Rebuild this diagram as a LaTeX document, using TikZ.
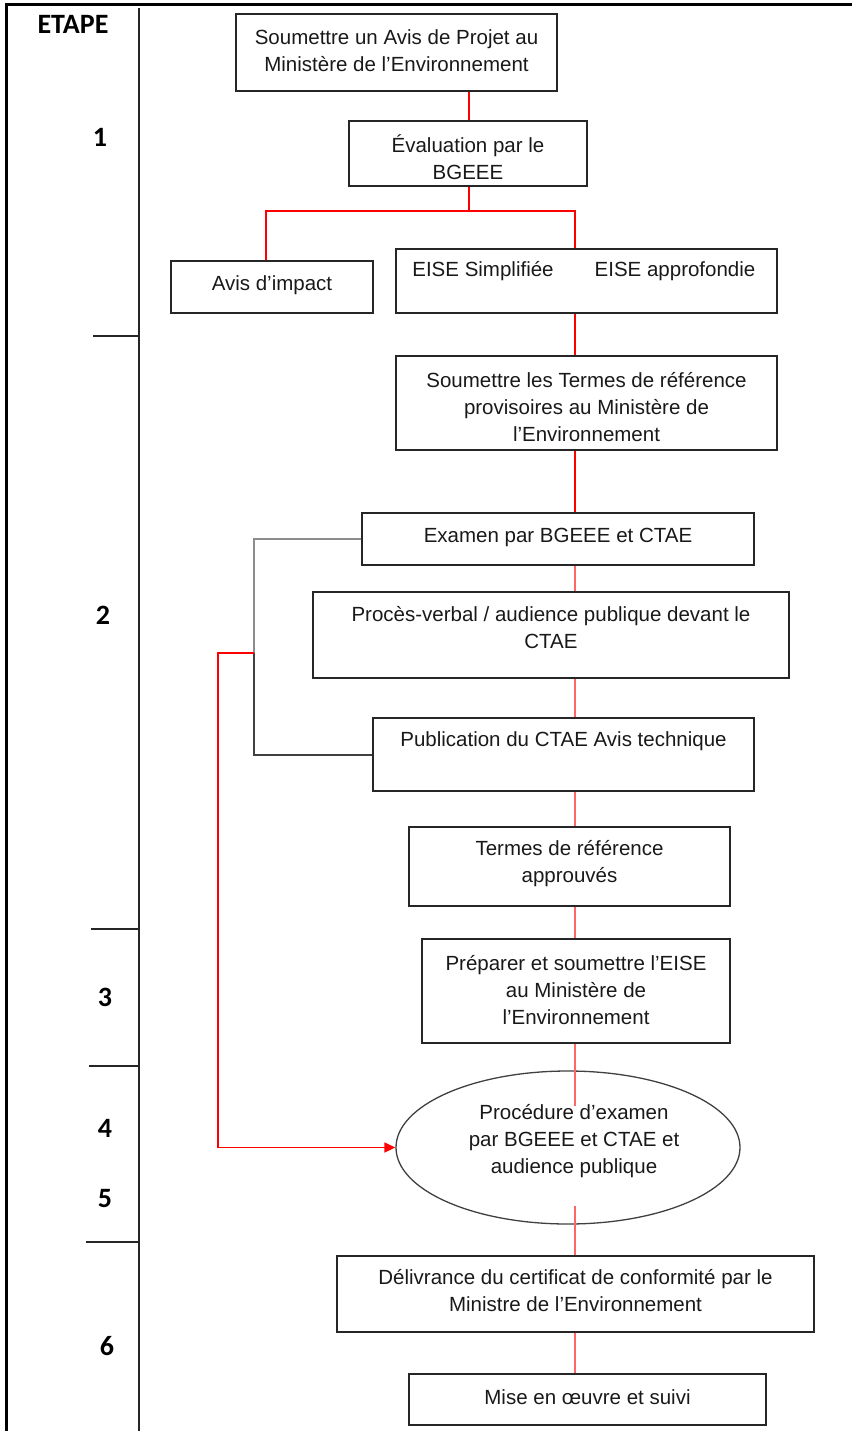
\documentclass[tikz,border=0pt]{standalone}
\usepackage{fontspec}
\setmainfont{Liberation Sans}
\newfontfamily\calib{Carlito}
\usetikzlibrary{shapes.geometric,arrows.meta}
\begin{document}
\begin{tikzpicture}[x=1pt,y=-1pt,
  box/.style={draw=black!85, line width=1.8pt, inner sep=0pt, fill=none},
  txt/.style={font=\fontsize{20.5}{27}\selectfont, align=center, inner sep=0pt, text=black!90},
  stp/.style={font=\calib\bfseries\fontsize{28}{30}\selectfont, inner sep=0pt},
  rl/.style={draw=red, line width=1.2pt},
  frame/.style={draw=black, line width=3pt},
  divl/.style={draw=black!85, line width=1.8pt},
  grayl/.style={draw=black!45, line width=2pt},
  darkl/.style={draw=black!75, line width=2pt}]
\useasboundingbox (0,0) rectangle (852,1431);
% frame
\coordinate (fTL) at (6,5);
\coordinate (fTR) at (852,5);
\coordinate (fBL) at (6,1431);
\draw[frame] (fBL) -- (fTL) -- (fTR);
% divider and ticks
\coordinate (dT) at (139,8);
\coordinate (dB) at (139,1431);
\draw[divl] (dT) -- (dB);
\coordinate (t1) at (93,336);
\coordinate (t2) at (91,929);
\coordinate (t3) at (89,1066);
\coordinate (t4) at (86,1242);
\draw[divl] (t1) -- (t1 -| dT);
\draw[divl] (t2) -- (t2 -| dT);
\draw[divl] (t3) -- (t3 -| dT);
\draw[divl] (t4) -- (t4 -| dT);
% step labels
\node[stp] (etape) at (73,24) {ETAPE};
\node[stp] (s1) at (100,137) {1};
\node[stp] (s2) at (103,615) {2};
\node[stp] (s3) at (105,997) {3};
\node[stp] (s4) at (105,1128) {4};
\node[stp] (s5) at (105,1199) {5};
\node[stp] (s6) at (107,1346) {6};
% boxes
\node[box, minimum width=321pt, minimum height=77pt] (b1) at (396.5,52.5) {};
\node[txt] at (396.5,51) {Soumettre un Avis de Projet au\\Ministère de l’Environnement};
\node[box, minimum width=238pt, minimum height=65pt] (b2) at (468,153.5) {};
\node[txt] at (468,157) {Évaluation par le\\BGEEE};
\node[box, minimum width=202pt, minimum height=52pt] (b3) at (272,287) {};
\node[txt] at (272,285) {Avis d’impact};
\node[box, minimum width=381pt, minimum height=64pt] (b4) at (586.5,281) {};
\node[txt] at (483,271) {EISE Simplifiée};
\node[txt] at (675,271) {EISE approfondie};
\node[box, minimum width=381pt, minimum height=94pt] (b5) at (586.5,403) {};
\node[txt] at (586.5,407) {Soumettre les Termes de référence\\provisoires au Ministère de\\l’Environnement};
\node[box, minimum width=392pt, minimum height=52pt] (b6) at (558,539) {};
\node[txt] at (558,537) {Examen par BGEEE et CTAE};
\node[box, minimum width=476pt, minimum height=86pt] (b7) at (551,635) {};
\node[txt] at (551,628) {Procès-verbal / audience publique devant le\\CTAE};
\node[box, minimum width=381pt, minimum height=73pt] (b8) at (563.5,754.5) {};
\node[txt] at (563.5,741) {Publication du CTAE Avis technique};
\node[box, minimum width=321pt, minimum height=79pt] (b9) at (569.5,866.5) {};
\node[txt] at (569.5,864) {Termes de référence\\approuvés};
\node[box, minimum width=308pt, minimum height=104pt] (b10) at (576,991) {};
\node[txt] at (576,990) {Préparer et soumettre l’EISE\\au Ministère de\\l’Environnement};
\node[draw=black!75, line width=1.3pt, ellipse, minimum width=344pt, minimum height=153pt, inner sep=0pt] (el) at (568,1147.5) {};
\node[txt] at (574,1141) {Procédure d’examen\\par BGEEE et CTAE et\\audience publique};
\node[box, minimum width=477pt, minimum height=76pt] (b11) at (575.5,1294) {};
\node[txt] at (575.5,1291) {Délivrance du certificat de conformité par le\\Ministre de l’Environnement};
\node[box, minimum width=357pt, minimum height=51pt] (b12) at (587.5,1399.5) {};
\node[txt] at (587.5,1397) {Mise en œuvre et suivi};
% connectors
\coordinate (sp) at (575,0);
\coordinate (sq) at (469,0);
\coordinate (br) at (469,211);
\coordinate (brL) at (266,211);
\coordinate (brR) at (575,211);
\draw[rl] (sq |- b1.south) -- (sq |- b2.north);
\draw[rl] (sq |- b2.south) -- (br);
\draw[rl] (brL |- b3.north) -- (brL) -- (brR) -- (brR |- b4.north);
\draw[rl] (sp |- b4.south) -- (sp |- b5.north);
\draw[rl] (sp |- b5.south) -- (sp |- b6.north);
\draw[rl, draw=red!60] (sp |- b6.south) -- (sp |- b7.north);
\draw[rl, draw=red!60] (sp |- b7.south) -- (sp |- b8.north);
\draw[rl, draw=red!60] (sp |- b8.south) -- (sp |- b9.north);
\draw[rl, draw=red!60] (sp |- b9.south) -- (sp |- b10.north);
\coordinate (e1) at (575,1106);
\coordinate (e2) at (575,1206);
\draw[rl, draw=red!60] (sp |- b10.south) -- (e1);
\draw[rl, draw=red!60] (e2) -- (sp |- b11.north);
\draw[rl, draw=red!60] (sp |- b11.south) -- (sp |- b12.north);
% bracket
\coordinate (gx) at (254,0);
\coordinate (jr) at (254,653);
\draw[grayl] (b6.west) -- (gx |- b6.west) -- (jr);
\draw[darkl] (jr) -- (gx |- b8.west) -- (b8.west);
\coordinate (rc) at (218,653);
\draw[rl, line width=1.6pt, -{Triangle[length=11pt,width=10pt]}] (jr) -- (rc) |- (el.west);
\end{tikzpicture}
\end{document}
